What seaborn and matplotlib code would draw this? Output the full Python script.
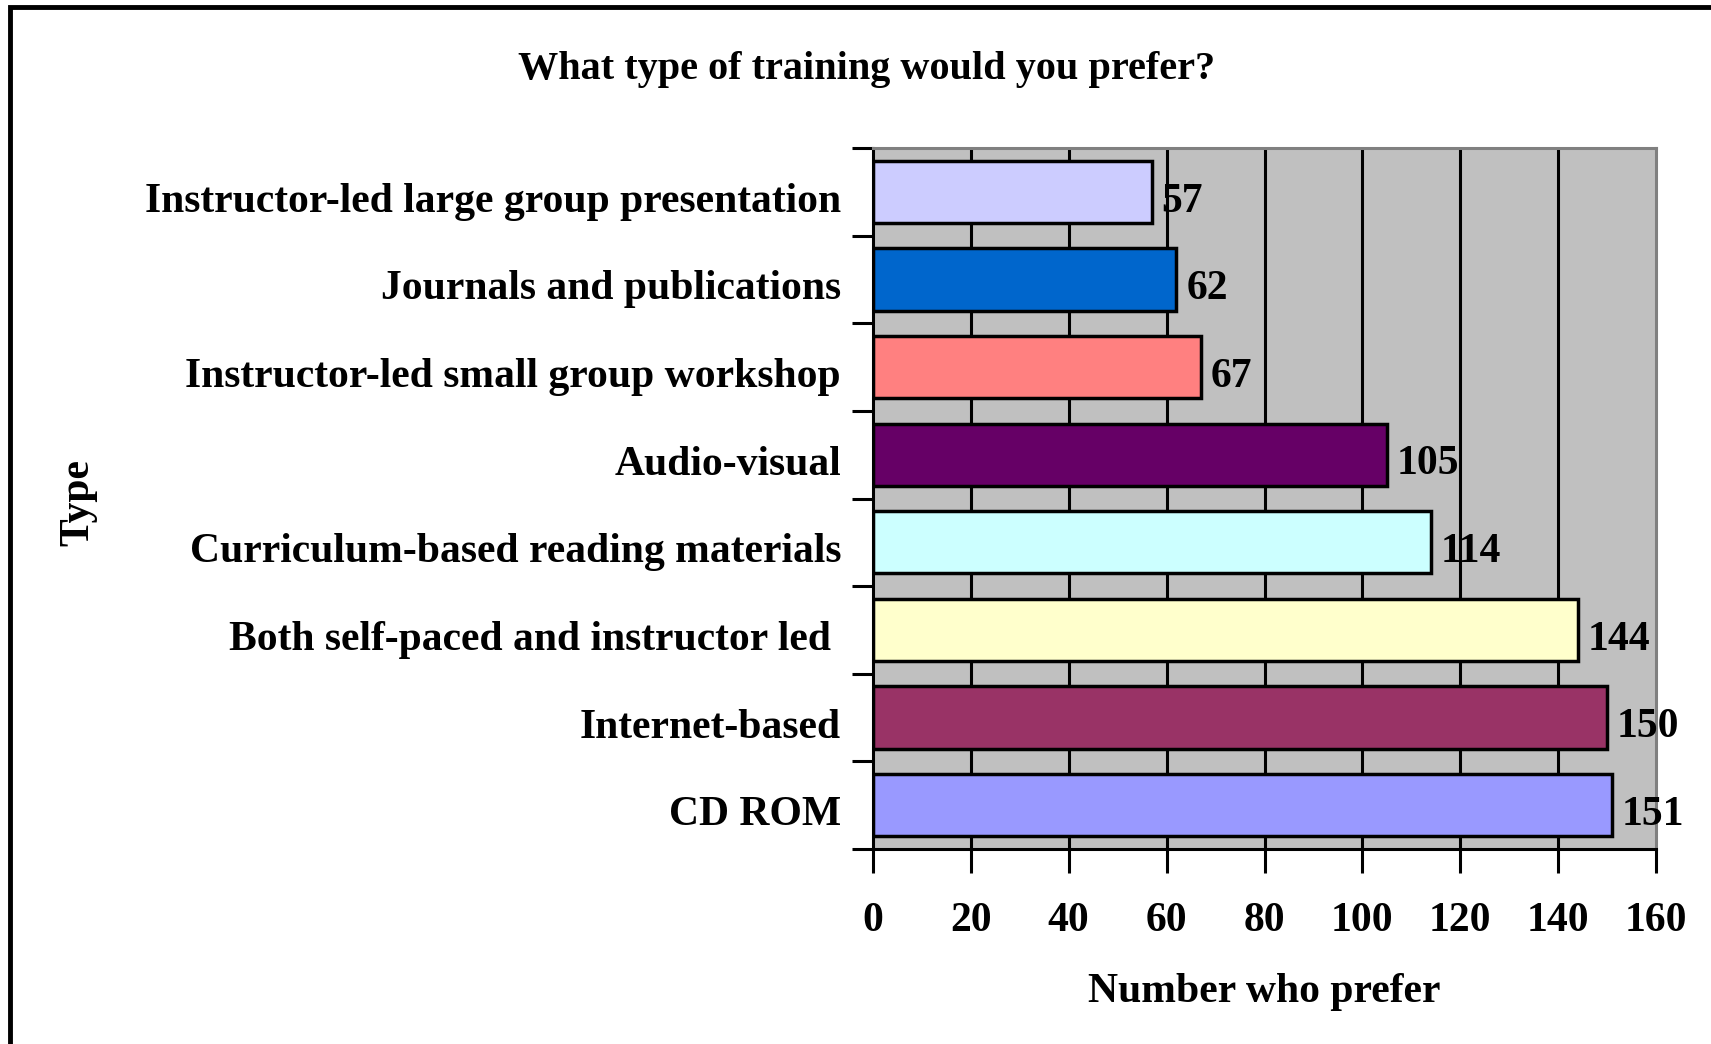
import matplotlib
matplotlib.use("Agg")
import matplotlib.pyplot as plt
from matplotlib.patches import Rectangle
from matplotlib.ticker import FixedLocator
from matplotlib.transforms import ScaledTranslation
import seaborn as sns
import pandas as pd

# Survey responses: preferred training type
categories = [
    "Instructor-led large group presentation",
    "Journals and publications",
    "Instructor-led small group workshop",
    "Audio-visual",
    "Curriculum-based reading materials",
    "Both self-paced and instructor led ",
    "Internet-based",
    "CD ROM",
]
counts = [57, 62, 67, 105, 114, 144, 150, 151]
bar_colors = ["#CCCCFF", "#0066CC", "#FF8080", "#660066",
              "#CCFFFF", "#FFFFCC", "#993366", "#9999FF"]
x_ticks = [0, 20, 40, 60, 80, 100, 120, 140, 160]

df = pd.DataFrame({"Type": categories, "Number": counts})

sns.set_theme(style="white")
plt.rcParams["font.family"] = ["Liberation Serif", "DejaVu Serif"]
plt.rcParams["font.weight"] = "bold"
for key in ["text.color", "axes.labelcolor", "xtick.color", "ytick.color"]:
    plt.rcParams[key] = "black"

FS = 30

fig = plt.figure(figsize=(17.11, 10.44), dpi=100)
ax = fig.add_axes([873 / 1711, 1 - 849 / 1044, (1656 - 873) / 1711, (849 - 148) / 1044])
ax.set_facecolor("#C0C0C0")

# vertical gridlines behind the bars
for xv in x_ticks[1:-1]:
    ax.axvline(xv, color="black", lw=2.2, zorder=0.5)

sns.barplot(data=df, x="Number", y="Type", hue="Type", palette=bar_colors,
            order=categories, hue_order=categories, legend=False,
            width=0.71, edgecolor="black", linewidth=2.5, saturation=1,
            orient="h", ax=ax, zorder=2)

ax.set_xlim(0, 160)
ax.set_ylim(7.5, -0.5)
ax.set_xticks(x_ticks)
ax.set_xticklabels([str(v) for v in x_ticks])

# ticks on the category boundaries, labels at the centres
ax.yaxis.set_minor_locator(FixedLocator([i - 0.5 for i in range(len(categories) + 1)]))
ax.tick_params(axis="y", which="major", length=0, pad=23, labelsize=FS)
ax.tick_params(axis="y", which="minor", length=15, width=2.2, color="black",
               direction="out", left=True)
ax.tick_params(axis="x", which="major", length=17, width=2.2, color="black",
               direction="out", bottom=True, pad=21, labelsize=FS)
shift_down = ScaledTranslation(0, -4 / 72, fig.dpi_scale_trans)
for lab in ax.get_yticklabels():
    lab.set_fontweight("bold")
    lab.set_transform(lab.get_transform() + shift_down)
for lab in ax.get_xticklabels():
    lab.set_fontweight("bold")

for side in ["left", "bottom"]:
    ax.spines[side].set_color("black")
    ax.spines[side].set_linewidth(2.2)
for side in ["top", "right"]:
    ax.spines[side].set_color("#808080")
    ax.spines[side].set_linewidth(2.2)

# value labels at the end of each bar
for i, val in enumerate(counts):
    ax.annotate(f"{val:d}", xy=(val, i), xytext=(7, -7), textcoords="offset points",
                ha="left", va="center", fontsize=FS, fontweight="bold",
                zorder=5)

ax.set_xlabel("Number who prefer", fontsize=FS, fontweight="bold", labelpad=24)
ax.set_ylabel("")
fig.text(78 / 1711, 1 - 502 / 1044, "Type", rotation=90, fontsize=FS,
         fontweight="bold", ha="center", va="center")

fig.text(867 / 1711, 1 - 69 / 1044, "What type of training would you prefer?",
         fontsize=29, fontweight="bold", ha="center", va="center")

# outer frame of the chart
fig.add_artist(Rectangle((10 / 1711, -0.05), 1.2, 1 - 7 / 1044 + 0.05,
                         transform=fig.transFigure, fill=False,
                         edgecolor="black", lw=3.5))

fig.savefig("out.png", dpi=100)
